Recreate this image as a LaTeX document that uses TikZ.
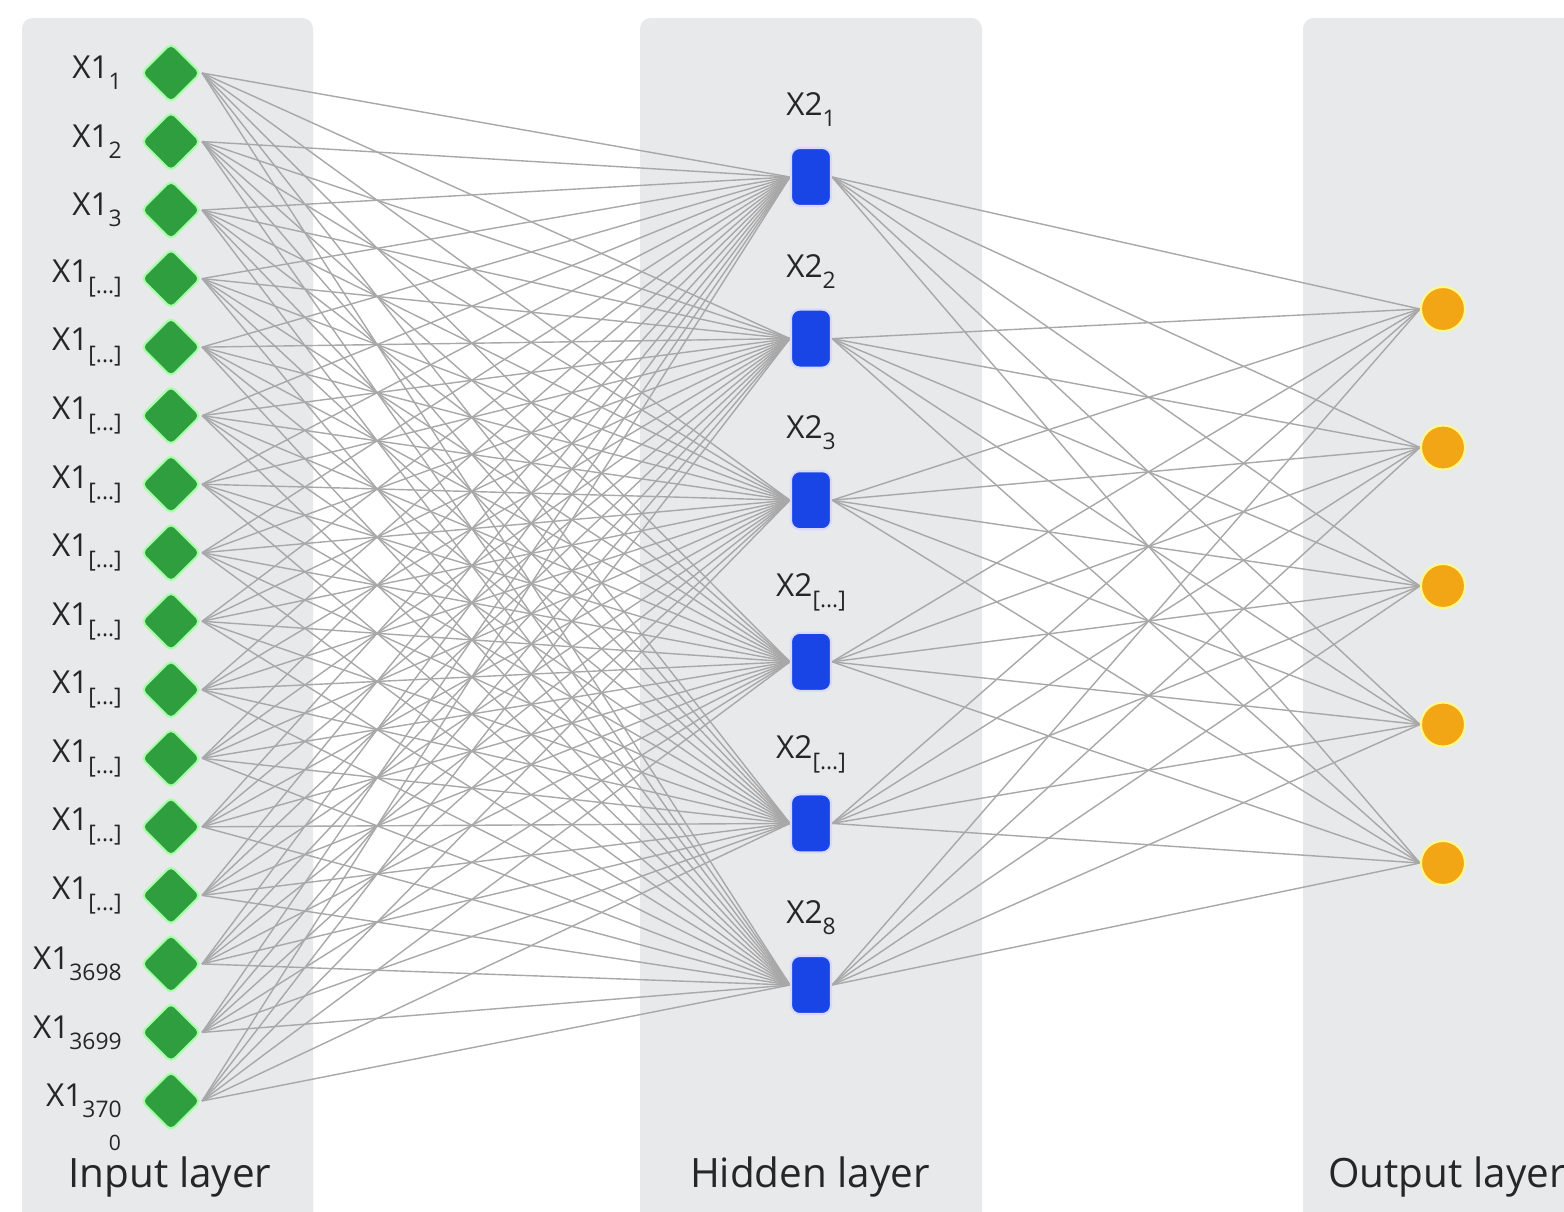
\documentclass[tikz,border=0pt]{standalone}
\usepackage{fontspec}
\setmainfont{Open Sans}
\usepackage{tikz}
\usetikzlibrary{shapes.geometric,positioning}
\pgfdeclarelayer{panels}
\pgfdeclarelayer{wires}
\pgfsetlayers{panels,wires,main}
\definecolor{panelgray}{HTML}{E8E9EB}
\definecolor{wiregray}{HTML}{A8A8A8}
\definecolor{ingreen}{HTML}{2E9E3E}
\definecolor{hidblue}{HTML}{1A45E6}
\definecolor{outorange}{HTML}{F2A515}
\definecolor{labgray}{HTML}{262626}
\newcommand{\elided}{[...]}
\newcommand{\lowidx}[1]{\raisebox{-3.2pt}{\fontsize{6.5}{7}\selectfont #1}}

\begin{document}
\begin{tikzpicture}[x=0.01cm,y=-0.01cm,
    panel/.style={fill=panelgray,rounded corners=3pt},
    wire/.style={draw=wiregray,line width=0.4pt},
    inunit/.style={diamond,fill=ingreen,draw=green!35,line width=0.6pt,
        minimum width=0.6cm,minimum height=0.6cm,inner sep=0pt,rounded corners=1.5pt},
    hidunit/.style={rectangle,fill=hidblue,draw=blue!15,line width=0.6pt,
        minimum width=0.4cm,minimum height=0.58cm,rounded corners=2.5pt,inner sep=0pt},
    outunit/.style={circle,fill=outorange,draw=yellow!45,line width=0.6pt,
        minimum size=0.44cm,inner sep=0pt},
    unitlab/.style={font=\fontsize{9}{10}\selectfont,text=labgray,inner sep=1pt},
    layertitle/.style={font=\fontsize{11.5}{13}\selectfont,text=labgray}]
    \useasboundingbox (0,0) rectangle (1564,1211);

    \begin{pgfonlayer}{panels}
        \fill[panel] (22,18) rectangle (313,1225);
        \fill[panel] (640,18) rectangle (982,1225);
        \fill[panel] (1303,18) rectangle (1590,1225);
    \end{pgfonlayer}

    \foreach \lab [count=\i] in {1,2,3,\elided,\elided,\elided,\elided,\elided,
                                 \elided,\elided,\elided,\elided,\elided,3698,3699,370} {
        \node[inunit] (in\i) at (171,{73+68.53*(\i-1)}) {};
        \node[unitlab,left=0.14cm of in\i] (inlab\i) {X1\lowidx{\lab}};
    }
    \node[unitlab,font=\fontsize{6}{7}\selectfont] (lastzero) at (115,1143) {0};

    \foreach \lab [count=\j] in {1,2,3,\elided,\elided,8} {
        \node[hidunit] (hid\j) at (811,{177+161.6*(\j-1)}) {};
        \node[unitlab,above=0.16cm of hid\j] (hidlab\j) {X2\lowidx{\lab}};
    }

    \foreach \k in {1,...,5}
        \node[outunit] (out\k) at (1443,{309+138.5*(\k-1)}) {};

    \begin{pgfonlayer}{wires}
        \foreach \i in {1,...,16}
            \foreach \j in {1,...,6}
                \draw[wire] (in\i.east) -- (hid\j.west);
        \foreach \j in {1,...,6}
            \foreach \k in {1,...,5}
                \draw[wire] (hid\j.east) -- (out\k.west);
    \end{pgfonlayer}

    \node[layertitle] (intitle) at (170,1177) {Input layer};
    \node[layertitle] (hidtitle) at (810,1177) {Hidden layer};
    \node[layertitle] (outtitle) at (1447,1177) {Output layer};
\end{tikzpicture}
\end{document}
